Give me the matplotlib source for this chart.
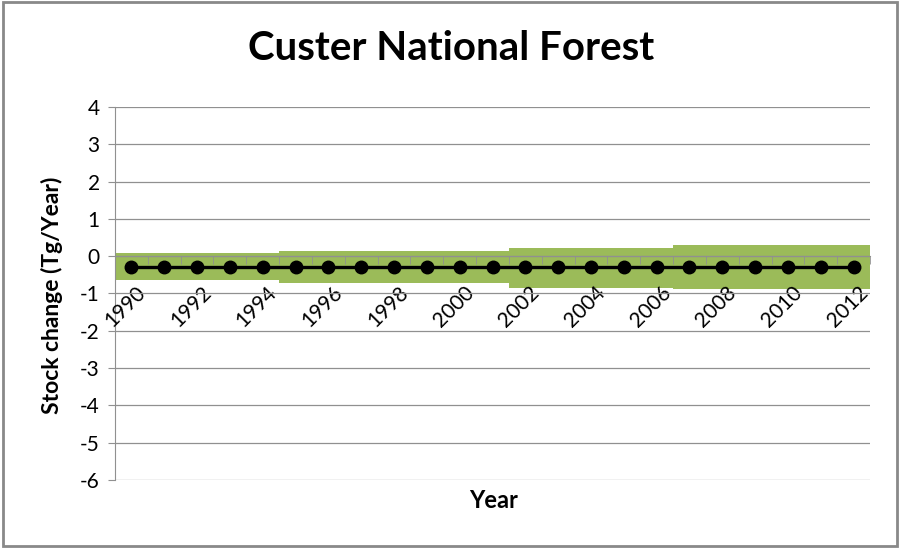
import matplotlib.pyplot as plt
import matplotlib.transforms as mtransforms
from matplotlib.patches import Rectangle

plt.rcParams['font.family'] = ['Lato', 'DejaVu Sans']

# Chart data
years = list(range(1990, 2013))
stock_change = [-0.3] * 23
band_low = [-0.65] * 5 + [-0.73] * 7 + [-0.84] * 5 + [-0.89] * 6
band_high = [0.08] * 5 + [0.15] * 7 + [0.23] * 5 + [0.29] * 6
y_ticks = [4, 3, 2, 1, 0, -1, -2, -3, -4, -5, -6]

fig = plt.figure(figsize=(9, 5.56), dpi=100)
ax = fig.add_axes([0.1278, 0.1367, 0.8389, 0.6709])

x = list(range(len(years)))
heights = [h - l for h, l in zip(band_high, band_low)]
ax.bar(x, heights, bottom=band_low, width=1.0, color='#9BBB59', zorder=2)
ax.plot(x, stock_change, color='black', lw=2.4, marker='o', markersize=9, zorder=4)

ax.set_axisbelow(False)
ax.set_xlim(-0.5, len(years) - 0.5)
ax.set_ylim(-6, 4)
ax.set_yticks(y_ticks)
ax.set_yticklabels([str(v) for v in y_ticks])
ax.grid(axis='y', color='#909090', lw=0.9)

# x axis crosses at zero
ax.spines['bottom'].set_position(('data', 0))
ax.spines['bottom'].set_color('#909090')
ax.spines['left'].set_color('#909090')
ax.spines['top'].set_visible(False)
ax.spines['right'].set_visible(False)

ax.set_xticks(x[::2])
ax.set_xticklabels([str(y) for y in years[::2]], rotation=45, ha='right',
                   rotation_mode='anchor', fontsize=15)
ax.set_xticks([i - 0.5 for i in range(len(years) + 1)], minor=True)
ax.tick_params(axis='x', which='major', length=0, pad=19)
ax.tick_params(axis='x', which='minor', length=6, color='#909090', direction='out')
ax.tick_params(axis='y', length=5, color='#909090', labelsize=15, pad=6)

shift = mtransforms.ScaledTranslation(4 / 100, 0, fig.dpi_scale_trans)
for lbl in ax.get_xticklabels():
    lbl.set_transform(lbl.get_transform() + shift)

fig.text(0.501, 0.912, 'Custer National Forest', ha='center', va='center',
         fontsize=29, fontweight='bold')
fig.text(0.548, 0.099, 'Year', ha='center', va='center', fontsize=17, fontweight='bold')
fig.text(0.058, 0.469, 'Stock change (Tg/Year)', ha='center', va='center',
         rotation=90, fontsize=16.5, fontweight='bold')

border = Rectangle((0.003, 0.018), 0.994, 0.978, transform=fig.transFigure,
                   fill=False, edgecolor='#898989', lw=2)
fig.patches.append(border)

fig.savefig('out.png', dpi=100)
